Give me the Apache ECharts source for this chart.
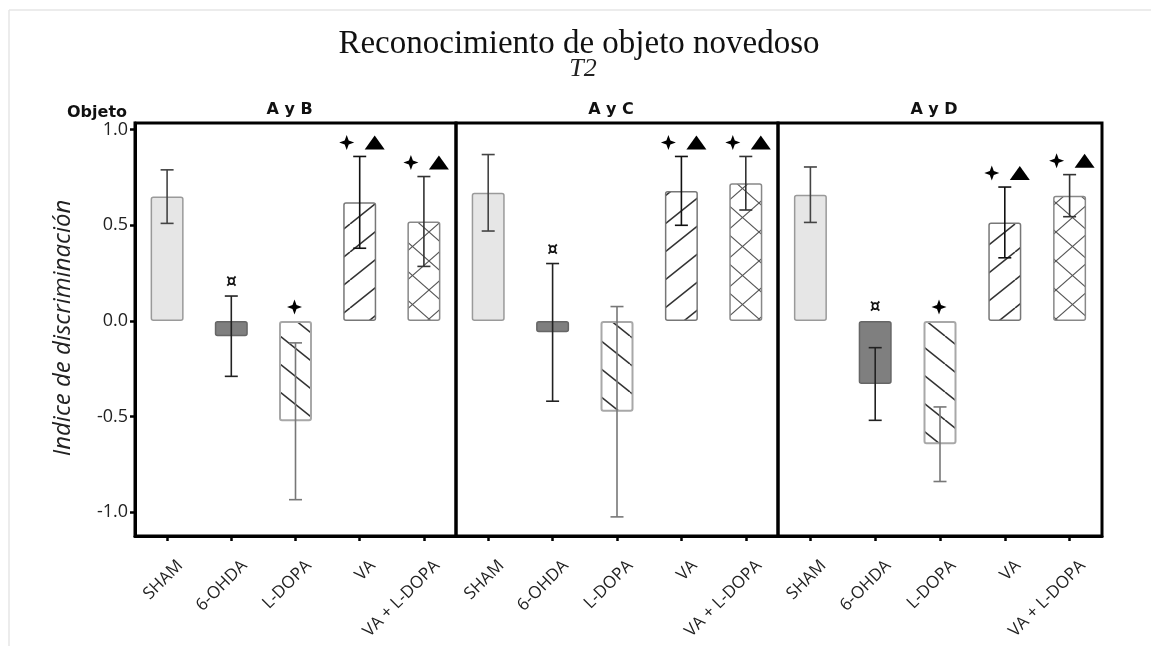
<!DOCTYPE html>
<html><head><meta charset="utf-8">
<script src="https://cdn.jsdelivr.net/npm/echarts@6/dist/echarts.min.js"></script>
<style>html,body{margin:0;padding:0;background:#fff}#c{width:1151px;height:646px}</style>
</head><body><div id="c"></div>
<script>
// ---- data ----
const categories = ['SHAM', '6-OHDA', 'L-DOPA', 'VA', 'VA + L-DOPA'];
const panels = ['A y B', 'A y C', 'A y D'];
const meanAB = [0.65, -0.08, -0.525, 0.62, 0.52];
const errAB  = [0.14, 0.21, 0.41, 0.24, 0.235];
const meanAC = [0.67, -0.06, -0.475, 0.68, 0.72];
const errAC  = [0.20, 0.36, 0.55, 0.18, 0.14];
const meanAD = [0.66, -0.33, -0.645, 0.515, 0.655];
const errAD  = [0.145, 0.19, 0.195, 0.185, 0.11];
const sigAB = ['', '¤', '✦', '✦▲', '✦▲'];
const sigAC = ['', '¤', '', '✦▲', '✦▲'];
const sigAD = ['', '¤', '✦', '✦▲', '✦▲'];
const yTicks = [-1.0, -0.5, 0.0, 0.5, 1.0];
const title = 'Reconocimiento de objeto novedoso';
const subtitle = 'T2';
const yName = 'Indice de discriminación';
const cornerLabel = 'Objeto';

const means = [meanAB, meanAC, meanAD];
const errs = [errAB, errAC, errAD];
const sigs = [sigAB, sigAC, sigAD];

// ---- styles ----
function pattern(kind) {
  const c = document.createElement('canvas');
  let w, h;
  if (kind === 'cross') { w = 33; h = 29; } else { w = 35; h = 28; }
  c.width = w; c.height = h;
  const ctx = c.getContext('2d');
  ctx.fillStyle = '#fff'; ctx.fillRect(0, 0, w, h);
  ctx.strokeStyle = kind === 'cross' ? '#555' : '#333';
  ctx.lineWidth = kind === 'cross' ? 1.1 : 1.6;
  const seg = (x1, y1, x2, y2) => { ctx.beginPath(); ctx.moveTo(x1, y1); ctx.lineTo(x2, y2); ctx.stroke(); };
  if (kind === 'fwd' || kind === 'cross') {
    for (const dx of [-w, 0, w]) seg(dx, h, dx + w, 0);
  }
  if (kind === 'back' || kind === 'cross') {
    for (const dx of [-w, 0, w]) seg(dx, 0, dx + w, h);
  }
  return { image: c, repeat: 'repeat' };
}
const barStyles = [
  { color: '#e6e6e6', borderColor: '#9a9a9a', borderWidth: 1.5, borderRadius: 2 },
  { color: '#7f7f7f', borderColor: '#666', borderWidth: 1.5, borderRadius: 2 },
  { color: pattern('back'), borderColor: '#a8a8a8', borderWidth: 2, borderRadius: 2 },
  { color: pattern('fwd'), borderColor: '#777', borderWidth: 1.5, borderRadius: 2 },
  { color: pattern('cross'), borderColor: '#888', borderWidth: 1.5, borderRadius: 2 }
];
const errColors = ['#444', '#222', '#777', '#111', '#333'];

const grids = [
  { left: 135, top: 123, width: 321, height: 413 },
  { left: 456, top: 123, width: 322, height: 413 },
  { left: 778, top: 123, width: 324, height: 413 }
];
const FONT = '"Open Sans", "Noto Sans", sans-serif';
const BOLD = 'bold 16px "DejaVu Sans", sans-serif';

const option = {
  backgroundColor: '#fff',
  animation: false,
  grid: grids.map(g => Object.assign({ show: true, borderColor: '#000', borderWidth: 3, containLabel: false }, g)),
  xAxis: grids.map((g, i) => ({
    type: 'category', gridIndex: i, data: categories,
    axisLine: { show: true, onZero: false, lineStyle: { color: '#000', width: 3 } },
    axisTick: { show: true, alignWithLabel: true, length: 5, lineStyle: { color: '#000', width: 2.5 } },
    axisLabel: { interval: 0, rotate: 45, fontSize: 17, color: '#222', fontFamily: FONT, margin: 14,
      verticalAlign: 'top', padding: [10, 0, 0, 0] },
    splitLine: { show: false }
  })),
  yAxis: grids.map((g, i) => ({
    type: 'value', gridIndex: i, min: -1.125, max: 1.035,
    axisLine: { show: i === 0, lineStyle: { color: '#000', width: 3 } },
    axisTick: { show: i === 0, length: 5, lineStyle: { color: '#000', width: 2.5 }, customValues: yTicks },
    axisLabel: { show: i === 0, fontSize: 18, color: '#222', fontFamily: FONT, margin: 7,
      customValues: yTicks, formatter: v => Number(v).toFixed(1) },
    splitLine: { show: false }
  })),
  graphic: [
    { type: 'line', shape: { x1: 9, y1: 10, x2: 1151, y2: 10 }, style: { stroke: '#e6e6e6', lineWidth: 1.5 }, silent: true },
    { type: 'line', shape: { x1: 9, y1: 10, x2: 9, y2: 646 }, style: { stroke: '#e6e6e6', lineWidth: 1.5 }, silent: true },
    { type: 'text', x: 579, y: 44, style: { text: title, font: '33px "Liberation Serif", "Times New Roman", serif', fill: '#111', textAlign: 'center', textVerticalAlign: 'middle' } },
    { type: 'text', x: 583, y: 69, style: { text: subtitle, font: 'italic 26px "Liberation Serif", "Times New Roman", serif', fill: '#222', textAlign: 'center', textVerticalAlign: 'middle' } },
    { type: 'text', x: 97, y: 113, style: { text: cornerLabel, font: BOLD, fill: '#111', textAlign: 'center', textVerticalAlign: 'middle' } },
    { type: 'text', x: 63, y: 328, rotation: Math.PI / 2, style: { text: yName, font: 'italic 24px ' + FONT, fill: '#222', textAlign: 'center', textVerticalAlign: 'middle' } }
  ].concat(panels.map((p, i) => ({
    type: 'text', x: grids[i].left + grids[i].width / 2 - 6, y: 110,
    style: { text: p, font: BOLD, fill: '#111', textAlign: 'center', textVerticalAlign: 'middle' }
  }))),
  series: []
};

panels.forEach((p, i) => {
  option.series.push({
    type: 'bar', xAxisIndex: i, yAxisIndex: i, barWidth: 33, z: 2,
    data: means[i].map((v, k) => ({ value: v, itemStyle: barStyles[k] }))
  });
  option.series.push({
    type: 'custom', xAxisIndex: i, yAxisIndex: i, z: 5,
    data: means[i].map((v, k) => [k, v, errs[i][k]]),
    renderItem: function (params, api) {
      const k = api.value(0), m = api.value(1), e = api.value(2);
      const t = api.coord([k, m + e]), b = api.coord([k, m - e]);
      const s = { stroke: errColors[k], lineWidth: 1.6 };
      const cw = 6.5;
      return { type: 'group', children: [
        { type: 'line', shape: { x1: t[0], y1: t[1], x2: b[0], y2: b[1] }, style: s },
        { type: 'line', shape: { x1: t[0] - cw, y1: t[1], x2: t[0] + cw, y2: t[1] }, style: s },
        { type: 'line', shape: { x1: b[0] - cw, y1: b[1], x2: b[0] + cw, y2: b[1] }, style: s }
      ] };
    }
  });
  option.series.push({
    type: 'custom', xAxisIndex: i, yAxisIndex: i, z: 6,
    data: means[i].map((v, k) => [k, Math.max(v + errs[i][k], 0)]),
    renderItem: function (params, api) {
      const k = api.value(0);
      const sig = sigs[i][k];
      if (!sig) return null;
      const pt = api.coord([k, api.value(1)]);
      const cx = pt[0], cy = pt[1] - 14;
      const star = (x, y) => ({ type: 'polygon', shape: { points: [[x, y - 7.5], [x + 2, y - 2], [x + 7.5, y], [x + 2, y + 2], [x, y + 7.5], [x - 2, y + 2], [x - 7.5, y], [x - 2, y - 2]] }, style: { fill: '#000' } });
      const tri = (x, y) => ({ type: 'polygon', shape: { points: [[x - 10, y + 7], [x + 10, y + 7], [x, y - 7]] }, style: { fill: '#000' } });
      const children = [];
      if (sig === '¤') {
        children.push({ type: 'text', x: cx, y: cy + 1, style: { text: '¤', font: 'bold 17px "DejaVu Sans", sans-serif', fill: '#111', textAlign: 'center', textVerticalAlign: 'middle' } });
      } else if (sig === '✦') {
        children.push(star(cx - 1, cy));
      } else {
        children.push(star(cx - 13, cy));
        children.push(tri(cx + 15, cy));
      }
      return { type: 'group', children };
    }
  });
});

const chart = echarts.init(document.getElementById('c'), null, { renderer: 'canvas' });
chart.setOption(option);
</script></body></html>
